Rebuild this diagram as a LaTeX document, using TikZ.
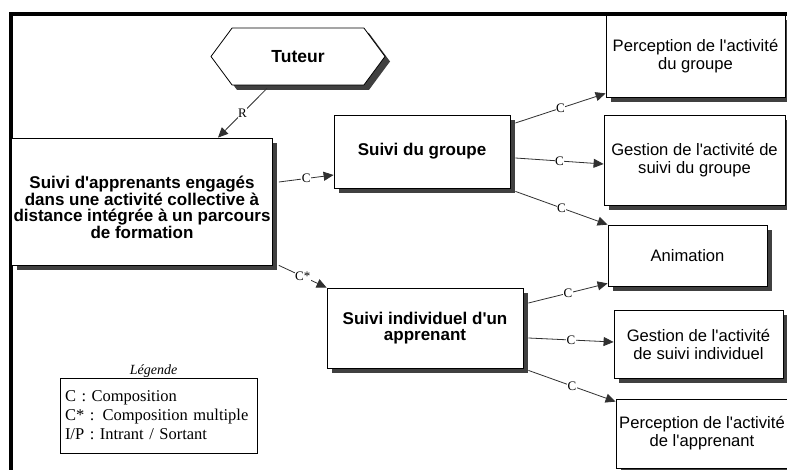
\documentclass[tikz,border=0pt]{standalone}
\usepackage{fontspec}
\newfontfamily\arial{Liberation Sans}
\newfontfamily\serifft{Liberation Serif}
\usetikzlibrary{arrows.meta,shadows,shapes.symbols}
\definecolor{shd}{HTML}{404040}
\definecolor{ln}{HTML}{303030}
\begin{document}
\begin{tikzpicture}[x=1pt,y=-1pt,
 shadowed/.style={drop shadow={shadow xshift=5pt, shadow yshift=-5pt, opacity=1, fill=shd}},
 box/.style={draw=black, line width=0.8pt, fill=white, inner sep=2pt, align=center, shadowed},
 bbox/.style={box, font=\arial\bfseries\fontsize{17}{16.5}\selectfont},
 rbox/.style={box, font=\arial\fontsize{16.6}{18}\selectfont},
 conn/.style={draw=ln, line width=0.8pt, -{Triangle[length=10pt,width=9pt]}},
 lab/.style={font=\serifft\fontsize{13}{13}\selectfont, fill=white, inner sep=0.6pt},
]
\useasboundingbox (0,0) rectangle (787,470);
\fill[white] (0,0) rectangle (787,470);
% frame
\draw[line width=4.5pt] (11,480) -- (11,14) -- (800,14);
% nodes
\node[signal, signal to=west and east, signal pointer angle=107, draw=black, line width=0.8pt, fill=white, minimum width=174pt, minimum height=57pt, inner sep=0pt, shadowed, font=\arial\bfseries\fontsize{17.5}{18}\selectfont] (tut) at (298,56.5) {Tuteur};
\node[bbox, minimum width=260pt, minimum height=127pt] (main) at (142,201.5) {\rule{0pt}{24pt}Suivi d'apprenants engagés\\dans une activité collective à\\distance intégrée à un parcours\\de formation};
\node[bbox, minimum width=176pt, minimum height=73pt] (sg) at (422,151.5) {Suivi du groupe};
\node[bbox, minimum width=196pt, minimum height=80pt] (si) at (425,328) {Suivi individuel d'un\\apprenant};
\node[rbox, minimum width=179pt, minimum height=82pt] (p1) at (695.5,56) {Perception de l'activité\\du groupe};
\node[rbox, minimum width=181pt, minimum height=90pt] (g1) at (694.5,160) {Gestion de l'activité de\\suivi du groupe};
\node[rbox, minimum width=159pt, minimum height=61pt] (an) at (687.5,255.5) {Animation};
\node[rbox, minimum width=169pt, minimum height=68pt] (g2) at (698.5,344) {Gestion de l'activité\\de suivi individuel};
\node[rbox, minimum width=172pt, minimum height=69pt] (p2) at (702,433.5) {Perception de l'activité\\de l'apprenant};
% connectors
\draw[conn] ([xshift=-31pt,yshift=-3pt]tut.south) -- node[lab]{R} ([xshift=76pt]main.north);
\draw[conn] ([xshift=6pt,yshift=19.5pt]main.east) -- node[lab]{C} ([yshift=-23.5pt]sg.west);
\draw[conn] ([xshift=6pt]main.south east) -- node[lab]{C*} (si.north west);
\draw[conn] ([xshift=5pt,yshift=28.5pt]sg.east) -- node[lab]{C} ([yshift=4pt]p1.south west);
\draw[conn] ([xshift=5pt,yshift=-6.5pt]sg.east) -- node[lab]{C} ([yshift=-4pt]g1.west);
\draw[conn] ([xshift=5pt,yshift=-3pt]sg.south east) -- node[lab]{C} (an.north west);
\draw[conn] ([xshift=5pt,yshift=25pt]si.east) -- node[lab]{C} ([yshift=3pt]an.south west);
\draw[conn] ([xshift=5pt,yshift=-10pt]si.east) -- node[lab]{C} ([yshift=2pt]g2.west);
\draw[conn] ([xshift=5pt,yshift=-2pt]si.south east) -- node[lab]{C} ([yshift=-3pt]p2.north west);
% legend
\node[font=\serifft\itshape\fontsize{14}{14}\selectfont, inner sep=0pt] (lgdt) at (153.5,371.5) {Légende};
\node[draw=black, line width=0.6pt, minimum width=197pt, minimum height=75pt, align=left, text width=187pt, inner sep=5pt, font=\serifft\fontsize{16.5}{19}\selectfont] (lgd) at (158.5,415.5) {C : Composition\\C* : Composition multiple\\I/P : Intrant / Sortant};
\end{tikzpicture}
\end{document}
